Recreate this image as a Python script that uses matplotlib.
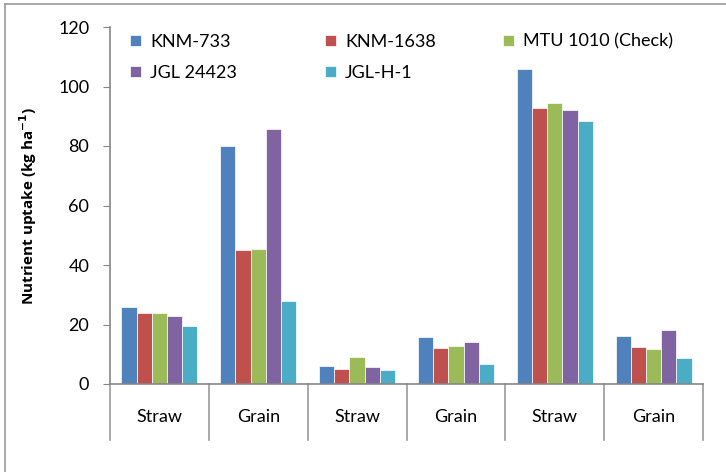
import matplotlib
matplotlib.use('Agg')
import matplotlib.pyplot as plt
from matplotlib.lines import Line2D
import numpy as np

# data
categories = ['Straw', 'Grain', 'Straw', 'Grain', 'Straw', 'Grain']
series_names = ['KNM-733', 'KNM-1638', 'MTU 1010 (Check)', 'JGL 24423', 'JGL-H-1']
knm733 = [26.0, 80.0, 6.1, 15.9, 105.8, 16.0]
knm1638 = [23.8, 44.9, 5.0, 12.0, 92.7, 12.4]
mtu1010 = [23.8, 45.5, 9.1, 12.8, 94.6, 11.7]
jgl24423 = [22.7, 85.8, 5.8, 14.1, 92.1, 18.0]
jglh1 = [19.4, 27.8, 4.6, 6.7, 88.5, 8.8]
colors = ['#4F81BD', '#C0504D', '#9BBB59', '#8064A2', '#4BACC6']
yticks = [0, 20, 40, 60, 80, 100, 120]

narrow = ['Lato', 'DejaVu Sans']

fig = plt.figure(figsize=(7.26, 4.72), dpi=100)
ax = fig.add_axes([110/726, 1-384/472, (703-110)/726, (384-27)/472])

allseries = [knm733, knm1638, mtu1010, jgl24423, jglh1]
x = np.arange(len(categories))
w = 0.154
handles = []
for i, (vals, name, c) in enumerate(zip(allseries, series_names, colors)):
    b = ax.bar(x + (i-2)*w, vals, w, color=c, edgecolor='white', linewidth=0.5, label=name)
    handles.append(b)

ax.set_xlim(-0.5, len(categories)-0.5)
ax.set_ylim(0, 120)
ax.set_yticks(yticks)
ax.set_yticklabels([str(t) for t in yticks], family=narrow, fontsize=13)
ax.tick_params(axis='y', direction='out', length=5, color='#868686', pad=10)
ax.set_xticks([])
for s in ['top', 'right']:
    ax.spines[s].set_visible(False)
for s in ['left', 'bottom']:
    ax.spines[s].set_color('#868686')
    ax.spines[s].set_linewidth(1.2)

# category table under the axis
tr = ax.get_xaxis_transform()
for k in range(len(categories)+1):
    ax.plot([k-0.5, k-0.5], [0, -0.157], transform=tr, color='#9a9a9a', lw=1.2, clip_on=False)
for k, lab in enumerate(categories):
    ax.text(k, -0.093, lab, transform=tr, ha='center', va='center', fontsize=13,
            family=narrow)

ax.set_ylabel('Nutrient uptake (kg ha$^{\\mathbf{-1}}$)', fontsize=11, fontweight='bold',
              family=['Open Sans', 'DejaVu Sans'], labelpad=14)

# legend: three columns, filled row by row
columns = [[0, 3], [1, 4], [2]]
col_x = [0.034, 0.363, 0.663]
for n, (idx, cx) in enumerate(zip(columns, col_x)):
    leg = ax.legend([handles[i] for i in idx], [series_names[i] for i in idx],
                    loc='upper left', bbox_to_anchor=(cx, 0.981), frameon=False,
                    borderpad=0, borderaxespad=0,
                    prop={'family': narrow, 'size': 13}, handlelength=0.6, handleheight=0.6,
                    handletextpad=0.5, labelspacing=0.85)
    if n < len(columns) - 1:
        ax.add_artist(leg)

# outer chart border (left and top visible)
fig.add_artist(Line2D([5/726, 5/726], [0, 1-4/472], transform=fig.transFigure, color='#9a9a9a', lw=1.2))
fig.add_artist(Line2D([5/726, 1], [1-4/472, 1-4/472], transform=fig.transFigure, color='#9a9a9a', lw=1.2))

fig.savefig('out.png', dpi=100)
